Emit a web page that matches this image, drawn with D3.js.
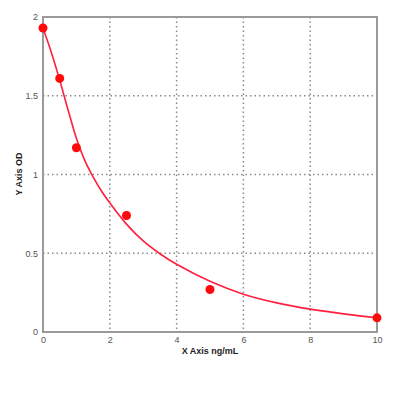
<!DOCTYPE html>
<html>
<head>
<meta charset="utf-8">
<script src="https://cdn.jsdelivr.net/npm/d3@7"></script>
<style>
	body { margin: 0; background: #fff; }
	svg { display: block; }
</style>
</head>
<body>
<script>
// Standard points (concentration, OD)
var pointX = [0, 0.5, 1, 2.5, 5, 10];
var pointY = [1.93, 1.61, 1.17, 0.74, 0.27, 0.09];

// Fitted curve
var curveX = [0, 0.25, 0.5, 0.75, 1, 1.25, 1.5, 1.75, 2, 2.5, 3, 3.5, 4, 5, 6, 7, 8, 9, 10];
var curveY = [1.93, 1.775, 1.6, 1.41, 1.23, 1.09, 0.985, 0.895, 0.82, 0.685, 0.578, 0.497, 0.43, 0.322, 0.24, 0.185, 0.145, 0.115, 0.09];

// Tick labels
var xTicks = [0, 2, 4, 6, 8, 10];
var yTicks = [0, 0.5, 1, 1.5, 2];

function ready() {
	var width = 413,
			height = 399,
			left = 43, right = 377, top = 17, bottom = 332;

	var svg = d3.select('body')
		.append('svg')
		.attr('width', width)
		.attr('height', height);

	var x = d3.scaleLinear().domain([0, 10]).range([left, right]),
			y = d3.scaleLinear().domain([0, 2]).range([bottom, top]);

	// Сетка пунктиром
	svg.selectAll('.vgrid')
		.data(xTicks.slice(1, -1))
		.enter()
		.append('line')
		.attr('x1', function(d) { return x(d); })
		.attr('x2', function(d) { return x(d); })
		.attr('y1', top)
		.attr('y2', bottom)
		.attr('stroke', '#8a8a8a')
		.attr('stroke-width', 1.5)
		.attr('stroke-dasharray', '1.5,3');

	svg.selectAll('.hgrid')
		.data(yTicks.slice(1, -1))
		.enter()
		.append('line')
		.attr('x1', left)
		.attr('x2', right)
		.attr('y1', function(d) { return y(d); })
		.attr('y2', function(d) { return y(d); })
		.attr('stroke', '#8a8a8a')
		.attr('stroke-width', 1.5)
		.attr('stroke-dasharray', '1.5,3');

	// Рамка
	svg.append('rect')
		.attr('x', left)
		.attr('y', top)
		.attr('width', right - left)
		.attr('height', bottom - top)
		.attr('fill', 'none')
		.attr('stroke', '#9a9a9a')
		.attr('stroke-width', 2);

	// Подписи осей
	var xAxis = d3.axisBottom(x).tickValues(xTicks).tickSize(0).tickPadding(5),
			yAxis = d3.axisLeft(y).tickValues(yTicks).tickSize(0).tickPadding(5)
				.tickFormat(function(d) { return d; });

	var gx = svg.append('g').attr('transform', 'translate(0,' + bottom + ')').call(xAxis);
	var gy = svg.append('g').attr('transform', 'translate(' + left + ',0)').call(yAxis);
	[gx, gy].forEach(function(g) {
		g.select('.domain').remove();
		g.selectAll('text')
			.attr('fill', '#555')
			.style('font-family', 'Arial, "Liberation Sans", sans-serif')
			.style('font-size', '9px');
	});

	// Кривая
	var line = d3.line()
		.x(function(d, i) { return x(curveX[i]); })
		.y(function(d) { return y(d); })
		.curve(d3.curveCatmullRom);

	svg.append('path')
		.datum(curveY)
		.attr('d', line)
		.attr('fill', 'none')
		.attr('stroke', '#ff1f3f')
		.attr('stroke-width', 1.6);

	// Точки
	svg.selectAll('circle')
		.data(pointY)
		.enter()
		.append('circle')
		.attr('cx', function(d, i) { return x(pointX[i]); })
		.attr('cy', function(d) { return y(d); })
		.attr('r', 4.5)
		.attr('fill', '#ff0a0a');

	svg.append('text')
		.attr('x', (left + right) / 2)
		.attr('y', 354)
		.attr('text-anchor', 'middle')
		.style('font-family', 'Arial, "Liberation Sans", sans-serif')
		.style('font-size', '9px')
		.style('font-weight', 'bold')
		.attr('fill', '#222')
		.text('X Axis ng/mL');

	svg.append('text')
		.attr('transform', 'translate(22,' + 174 + ') rotate(-90)')
		.attr('text-anchor', 'middle')
		.style('font-family', 'Arial, "Liberation Sans", sans-serif')
		.style('font-size', '9px')
		.style('font-weight', 'bold')
		.attr('fill', '#222')
		.text('Y Axis OD');
}

window.onload = function() {
	ready();
}
</script>
</body>
</html>
